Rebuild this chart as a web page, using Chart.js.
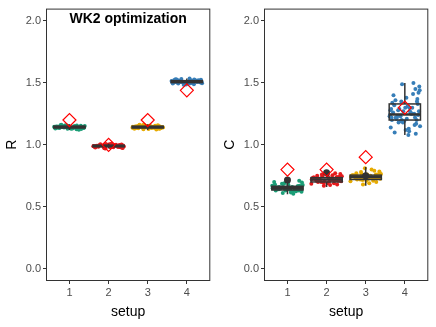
<!DOCTYPE html>
<html>
<head>
<meta charset="utf-8">
<script src="https://cdn.jsdelivr.net/npm/chart.js@4.4.1/dist/chart.umd.min.js"></script>
<style>
  body { margin: 0; background: #fff; }
  #wrap { position: relative; width: 436px; height: 327px; }
  canvas { position: absolute; top: 0; }
  #chartR { left: 0; }
  #chartC { left: 218px; }
</style>
</head>
<body>
<div id="wrap">
  <canvas id="chartR" width="218" height="327"></canvas>
  <canvas id="chartC" width="218" height="327"></canvas>
</div>
<script>
//--- Data ---//
const setups = [1, 2, 3, 4];
const colors = ['#1b9e77', '#e41a1c', '#e6ab02', '#377eb8'];
const yTicks = [0, 0.5, 1, 1.5, 2];

// horizontal jitter of each point (setup units)
const jitter = [-0.38, 0.12, -0.05, 0.31, -0.22, 0.36, 0.02, -0.29, 0.18, -0.12,
  0.27, -0.34, 0.07, 0.39, -0.17, 0.22, -0.08, 0.33, -0.26, 0.15,
  -0.39, 0.04, 0.29, -0.14, 0.35, -0.21, 0.09, -0.32, 0.24, -0.02,
  0.37, -0.11, 0.19, -0.36, 0.13, -0.24, 0.3, -0.07, 0.26, -0.3,
  0.1, -0.27, 0.34, -0.16, 0.21, -0.37, 0.05, 0.28, -0.09, 0.16,
  -0.33, 0.38, -0.19, 0.01, 0.25, -0.04, 0.32, -0.23, 0.11, -0.35];

// R panel
const r1 = [1.14, 1.15, 1.13, 1.145, 1.16, 1.135, 1.142, 1.148, 1.125, 1.155, 1.138, 1.147, 1.132, 1.152, 1.143, 1.128, 1.158, 1.141, 1.136, 1.149,
  1.145, 1.13, 1.153, 1.139, 1.144, 1.162, 1.134, 1.146, 1.121, 1.151, 1.137, 1.143, 1.156, 1.131, 1.147, 1.14, 1.127, 1.15, 1.142, 1.138];
const r2 = [0.99, 0.98, 1.0, 0.985, 0.995, 0.975, 1.005, 0.988, 0.992, 0.982, 0.997, 0.979, 1.008, 0.986, 0.994, 0.99, 0.971, 1.002, 0.984, 0.996,
  0.989, 0.981, 0.999, 0.993, 0.977, 1.004, 0.987, 0.991, 0.983, 0.998, 0.994, 0.973, 1.001, 0.985, 0.99, 0.996, 0.98, 1.006, 0.988, 0.992];
const r3 = [1.145, 1.138, 1.15, 1.132, 1.155, 1.141, 1.127, 1.148, 1.136, 1.16, 1.143, 1.13, 1.152, 1.139, 1.146, 1.124, 1.157, 1.134, 1.149, 1.142,
  1.137, 1.153, 1.129, 1.144, 1.14, 1.161, 1.135, 1.147, 1.131, 1.151, 1.143, 1.126, 1.154, 1.138, 1.145, 1.133, 1.149, 1.141, 1.158, 1.136];
const r4 = [1.51, 1.52, 1.5, 1.515, 1.495, 1.525, 1.505, 1.53, 1.49, 1.512, 1.518, 1.502, 1.535, 1.497, 1.508, 1.522, 1.485, 1.513, 1.527, 1.5,
  1.516, 1.493, 1.509, 1.531, 1.504, 1.519, 1.498, 1.524, 1.511, 1.488, 1.514, 1.506, 1.528, 1.496, 1.517, 1.503, 1.521, 1.492, 1.51, 1.507];
const rQ1 = [1.136, 0.985, 1.136, 1.502];
const rMed = [1.143, 0.99, 1.143, 1.51];
const rQ3 = [1.15, 0.996, 1.15, 1.518];
const rLo = [1.12, 0.972, 1.12, 1.485];
const rHi = [1.165, 1.008, 1.165, 1.535];
const rRef = [1.2, 1.0, 1.2, 1.44];
const rDot = [null, null, null, null];

// C panel
const c1 = [0.65, 0.66, 0.63, 0.67, 0.64, 0.62, 0.68, 0.655, 0.645, 0.61, 0.665, 0.7, 0.635, 0.675, 0.65, 0.625, 0.69, 0.66, 0.64, 0.605,
  0.67, 0.655, 0.63, 0.685, 0.645, 0.66, 0.615, 0.68, 0.65, 0.64, 0.695, 0.66, 0.635, 0.67, 0.62, 0.655, 0.71, 0.645, 0.665, 0.63];
const c2 = [0.72, 0.73, 0.71, 0.74, 0.7, 0.75, 0.69, 0.725, 0.715, 0.76, 0.68, 0.735, 0.705, 0.745, 0.72, 0.77, 0.695, 0.73, 0.71, 0.755,
  0.685, 0.74, 0.72, 0.7, 0.765, 0.725, 0.675, 0.735, 0.715, 0.78, 0.705, 0.745, 0.69, 0.73, 0.72, 0.75, 0.71, 0.67, 0.74, 0.725];
const c3 = [0.74, 0.75, 0.73, 0.76, 0.72, 0.77, 0.71, 0.745, 0.735, 0.78, 0.7, 0.755, 0.725, 0.765, 0.74, 0.79, 0.715, 0.75, 0.73, 0.8,
  0.705, 0.76, 0.74, 0.72, 0.785, 0.745, 0.69, 0.755, 0.735, 0.81, 0.725, 0.765, 0.71, 0.75, 0.74, 0.77, 0.73, 0.68, 0.76, 0.745];
const c4 = [1.24, 1.3, 1.18, 1.35, 1.21, 1.27, 1.12, 1.4, 1.25, 1.19, 1.45, 1.22, 1.31, 1.15, 1.28, 1.5, 1.2, 1.33, 1.1, 1.26,
  1.23, 1.38, 1.17, 1.29, 1.42, 1.21, 1.08, 1.34, 1.25, 1.19, 1.47, 1.23, 1.3, 1.14, 1.27, 1.36, 1.2, 1.49, 1.22, 1.26,
  1.13, 1.32, 1.24, 1.18, 1.41, 1.28, 1.21, 1.09, 1.35, 1.25, 1.2, 1.44, 1.23, 1.3, 1.16, 1.27, 1.37, 1.22, 1.11, 1.29];
const cQ1 = [0.635, 0.7, 0.72, 1.2];
const cMed = [0.65, 0.72, 0.74, 1.245];
const cQ3 = [0.665, 0.735, 0.755, 1.33];
const cLo = [0.6, 0.66, 0.67, 1.08];
const cHi = [0.71, 0.78, 0.82, 1.5];
const cRef = [0.8, 0.8, 0.9, 1.3];
const cDot = [0.715, 0.775, 0.75, null];
//------------//

const FONT = "'Liberation Sans', Arial, sans-serif";
const INK = '#333333';

//--- Plugins ---//
// box + whiskers, drawn right after the jittered points
const boxPlugin = {
  id: 'boxes',
  afterDatasetDraw(chart, args) {
    if (args.index !== 2) return;
    const box = chart.options.plugins.boxes;
    const x = chart.scales.x, y = chart.scales.y, ctx = chart.ctx;
    ctx.save();
    ctx.strokeStyle = INK;
    ctx.lineWidth = 1.5;
    setups.forEach((s, i) => {
      const xl = x.getPixelForValue(s - 0.4), xr = x.getPixelForValue(s + 0.4), xc = x.getPixelForValue(s);
      const q1 = y.getPixelForValue(box.q1[i]), q3 = y.getPixelForValue(box.q3[i]);
      ctx.beginPath();
      ctx.moveTo(xc, y.getPixelForValue(box.hi[i])); ctx.lineTo(xc, q3);
      ctx.moveTo(xc, q1); ctx.lineTo(xc, y.getPixelForValue(box.lo[i]));
      ctx.stroke();
      ctx.strokeRect(xl, q3, xr - xl, q1 - q3);
      ctx.lineWidth = 2.5;
      ctx.beginPath();
      const m = y.getPixelForValue(box.med[i]);
      ctx.moveTo(xl, m); ctx.lineTo(xr, m);
      ctx.stroke();
      ctx.lineWidth = 1.5;
    });
    ctx.restore();
  }
};

// panel border and optional title inside the panel
const framePlugin = {
  id: 'frame',
  afterDraw(chart) {
    const {ctx, chartArea: a} = chart;
    ctx.save();
    ctx.strokeStyle = INK;
    ctx.lineWidth = 1;
    ctx.strokeRect(a.left + 0.5, a.top + 0.5, a.right - a.left - 1, a.bottom - a.top - 1);
    const title = chart.options.plugins.frame.title;
    if (title) {
      ctx.fillStyle = '#000';
      ctx.font = `bold 14px ${FONT}`;
      ctx.textAlign = 'center';
      ctx.textBaseline = 'middle';
      ctx.fillText(title, (a.left + a.right) / 2, 19);
    }
    ctx.restore();
  }
};
//---------------//

function makePanel(id, label, groups, box, ref, dot, title) {
  const pointSets = groups.map((vals, g) => ({
    data: vals.map((v, i) => ({x: setups[g] + jitter[i], y: v})),
    backgroundColor: colors[g],
    borderWidth: 0,
    pointRadius: 2
  }));
  new Chart(document.getElementById(id), {
    type: 'scatter',
    data: {
      datasets: [
        {
          data: ref.map((v, i) => ({x: setups[i], y: v})),
          pointStyle: 'rectRot',
          pointRadius: 6.5,
          borderColor: '#ff0000',
          borderWidth: 1.2,
          backgroundColor: 'rgba(0,0,0,0)'
        },
        {
          data: dot.map((v, i) => ({x: setups[i], y: v})),
          pointRadius: 3.5,
          backgroundColor: INK,
          borderWidth: 0
        },
        ...pointSets
      ]
    },
    options: {
      responsive: false,
      animation: false,
      devicePixelRatio: 1,
      layout: {padding: {top: 5, right: 7, left: 0, bottom: 0}},
      plugins: {
        legend: {display: false},
        tooltip: {enabled: false},
        boxes: box,
        frame: {title: title}
      },
      scales: {
        x: {
          type: 'linear',
          min: 0.4,
          max: 4.6,
          afterBuildTicks: s => { s.ticks = setups.map(v => ({value: v})); },
          afterFit: s => { s.height = 46; },
          ticks: {color: '#4d4d4d', font: {family: FONT, size: 11}, padding: 2, callback: v => String(v)},
          grid: {drawOnChartArea: false, tickLength: 3, color: INK},
          border: {display: false},
          title: {display: true, text: 'setup', color: '#000', font: {family: FONT, size: 14}, padding: {top: 0, bottom: 6}}
        },
        y: {
          min: -0.1,
          max: 2.1,
          afterBuildTicks: s => { s.ticks = yTicks.map(v => ({value: v})); },
          afterFit: s => { s.width = 46; },
          ticks: {color: '#4d4d4d', font: {family: FONT, size: 11}, padding: 2, callback: v => v.toFixed(1)},
          grid: {drawOnChartArea: false, tickLength: 3, color: INK},
          border: {display: false},
          title: {display: true, text: label, color: '#000', font: {family: FONT, size: 14}, padding: {top: 4, bottom: 0}}
        }
      }
    },
    plugins: [boxPlugin, framePlugin]
  });
}

document.addEventListener('DOMContentLoaded', () => {
  makePanel('chartR', 'R', [r1, r2, r3, r4],
    {q1: rQ1, med: rMed, q3: rQ3, lo: rLo, hi: rHi}, rRef, rDot, 'WK2 optimization');
  makePanel('chartC', 'C', [c1, c2, c3, c4],
    {q1: cQ1, med: cMed, q3: cQ3, lo: cLo, hi: cHi}, cRef, cDot, null);
});
</script>
</body>
</html>
